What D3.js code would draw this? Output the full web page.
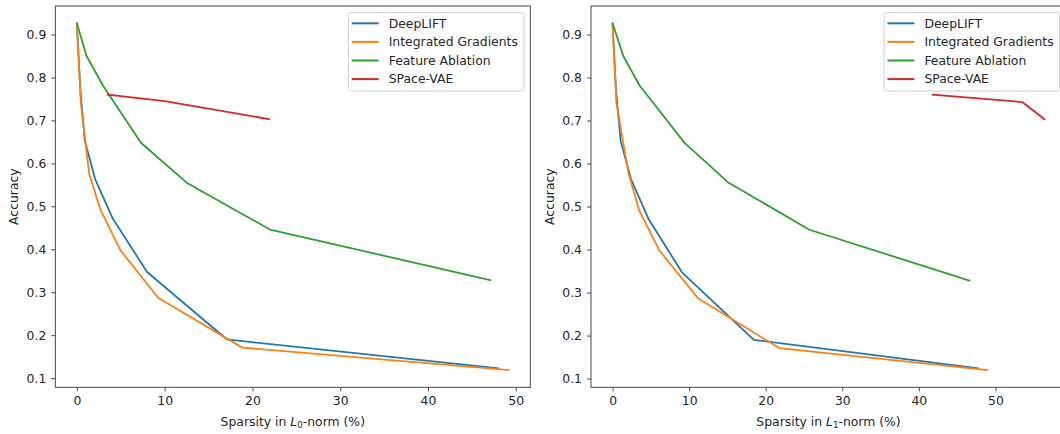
<!DOCTYPE html>
<html>
<head>
<meta charset="utf-8">
<script src="https://cdn.jsdelivr.net/npm/d3@7"></script>
<style>
	body { margin: 0; background: #fff; }
	svg { display: block; font-family: "DejaVu Sans", sans-serif; }
</style>
</head>
<body>
<script>

// series names and colours
var methods = ['DeepLIFT', 'Integrated Gradients', 'Feature Ablation', 'SPace-VAE'];
var colors = ['#1f77b4', '#ff7f0e', '#2ca02c', '#d62728'];

// left panel: sparsity in L0-norm
var deepliftL0X = [0, 0.4, 0.9, 2.1, 4.1, 8.0, 17.1, 48.0];
var deepliftL0Y = [0.925, 0.77, 0.653, 0.562, 0.471, 0.347, 0.19, 0.123];
var igL0X = [0, 0.45, 1.4, 2.7, 4.95, 9.25, 18.85, 49.2];
var igL0Y = [0.92, 0.74, 0.576, 0.491, 0.398, 0.287, 0.171, 0.119];
var faL0X = [0, 1.1, 3.0, 7.3, 12.5, 22.0, 47.1];
var faL0Y = [0.926, 0.85, 0.78, 0.648, 0.555, 0.446, 0.328];
var spaceL0X = [3.5, 10.0, 21.9];
var spaceL0Y = [0.76, 0.745, 0.703];

// right panel: sparsity in L1-norm
var deepliftL1X = [0, 0.45, 1.05, 2.4, 4.7, 9.06, 18.45, 47.7];
var deepliftL1Y = [0.925, 0.77, 0.653, 0.564, 0.471, 0.347, 0.19, 0.124];
var igL1X = [0, 0.5, 2.09, 3.48, 6.1, 11.2, 21.76, 48.9];
var igL1Y = [0.92, 0.74, 0.576, 0.491, 0.398, 0.286, 0.171, 0.12];
var faL1X = [0, 1.4, 3.5, 9.4, 15.1, 25.7, 46.6];
var faL1Y = [0.926, 0.85, 0.782, 0.648, 0.556, 0.446, 0.328];
var spaceL1X = [41.8, 53.5, 56.4];
var spaceL1Y = [0.76, 0.743, 0.703];

// tick values
var xTicks = [0, 10, 20, 30, 40, 50];
var yTicks = [0.1, 0.2, 0.3, 0.4, 0.5, 0.6, 0.7, 0.8, 0.9];

var W = 1060, H = 434,
	marginTop = 6,
	plotW = 475,
	plotH = 381.3,
	fontSize = 12.4,
	textColor = '#262626';

var svg = d3.select('body')
	.append('svg')
	.attr('width', W)
	.attr('height', H);

// matplotlib style 5% margin round the data
function pad(ext) {
	var m = (ext[1] - ext[0]) * 0.05;
	return [ext[0] - m, ext[1] + m];
}

function drawPanel(left, xs, ys, sub) {

	var allX = d3.merge(xs),
		allY = d3.merge(ys);

	var x = d3.scaleLinear()
		.domain(pad(d3.extent(allX)))
		.range([0, plotW]);

	var y = d3.scaleLinear()
		.domain(pad(d3.extent(allY)))
		.range([plotH, 0]);

	var g = svg.append('g')
		.attr('transform', 'translate(' + left + ',' + marginTop + ')');

	// lines
	var line = d3.line()
		.x(function(d) { return x(d[0]); })
		.y(function(d) { return y(d[1]); });

	xs.forEach(function(xv, i) {
		g.append('path')
			.datum(d3.zip(xv, ys[i]))
			.attr('fill', 'none')
			.attr('stroke', colors[i])
			.attr('stroke-width', 1.8)
			.attr('stroke-linejoin', 'round')
			.attr('stroke-linecap', 'square')
			.attr('d', line);
	});

	// axes
	var xAxis = g.append('g')
		.attr('transform', 'translate(0,' + plotH + ')')
		.call(d3.axisBottom(x).tickValues(xTicks).tickSize(4).tickPadding(5).tickFormat(d3.format('d')));

	var yAxis = g.append('g')
		.call(d3.axisLeft(y).tickValues(yTicks).tickSize(4).tickPadding(5).tickFormat(d3.format('.1f')));

	[xAxis, yAxis].forEach(function(a) {
		a.select('.domain').remove();
		a.selectAll('line').attr('stroke', '#333').attr('stroke-width', 0.9);
		a.selectAll('text')
			.attr('fill', textColor)
			.attr('font-size', fontSize)
			.attr('font-family', '"DejaVu Sans", sans-serif');
	});

	// frame
	g.append('rect')
		.attr('width', plotW)
		.attr('height', plotH)
		.attr('fill', 'none')
		.attr('stroke', '#333')
		.attr('stroke-width', 0.9);

	// axis labels
	var xl = g.append('text')
		.attr('x', plotW / 2)
		.attr('y', 425.5 - marginTop)
		.attr('text-anchor', 'middle')
		.attr('font-size', fontSize)
		.attr('fill', textColor);
	xl.append('tspan').text('Sparsity in ');
	xl.append('tspan').attr('font-style', 'italic').text('L');
	xl.append('tspan').attr('font-size', 8.7).attr('dy', 2).text(sub);
	xl.append('tspan').attr('dy', -2).text('-norm (%)');

	g.append('text')
		.attr('transform', 'translate(-37.5,' + (plotH / 2) + ') rotate(-90)')
		.attr('text-anchor', 'middle')
		.attr('font-size', fontSize)
		.attr('fill', textColor)
		.text('Accuracy');

	// legend
	var lw = 175.5, lh = 78.7,
		lx = plotW - 6.4 - lw, ly = 6.3;
	var legend = g.append('g')
		.attr('transform', 'translate(' + lx + ',' + ly + ')');
	legend.append('rect')
		.attr('width', lw)
		.attr('height', lh)
		.attr('rx', 2.5)
		.attr('fill', '#fff')
		.attr('fill-opacity', 0.8)
		.attr('stroke', '#d0d0d0')
		.attr('stroke-width', 1);
	methods.forEach(function(m, i) {
		var ry = 11 + i * 18.6;
		legend.append('line')
			.attr('x1', 3.3)
			.attr('x2', 30.3)
			.attr('y1', ry)
			.attr('y2', ry)
			.attr('stroke', colors[i])
			.attr('stroke-width', 2);
		legend.append('text')
			.attr('x', 40.3)
			.attr('y', ry)
			.attr('dy', '0.35em')
			.attr('font-size', fontSize)
			.attr('fill', textColor)
			.text(m);
	});
}

drawPanel(55.3,
	[deepliftL0X, igL0X, faL0X, spaceL0X],
	[deepliftL0Y, igL0Y, faL0Y, spaceL0Y],
	'0');

drawPanel(591,
	[deepliftL1X, igL1X, faL1X, spaceL1X],
	[deepliftL1Y, igL1Y, faL1Y, spaceL1Y],
	'1');

</script>
</body>
</html>
